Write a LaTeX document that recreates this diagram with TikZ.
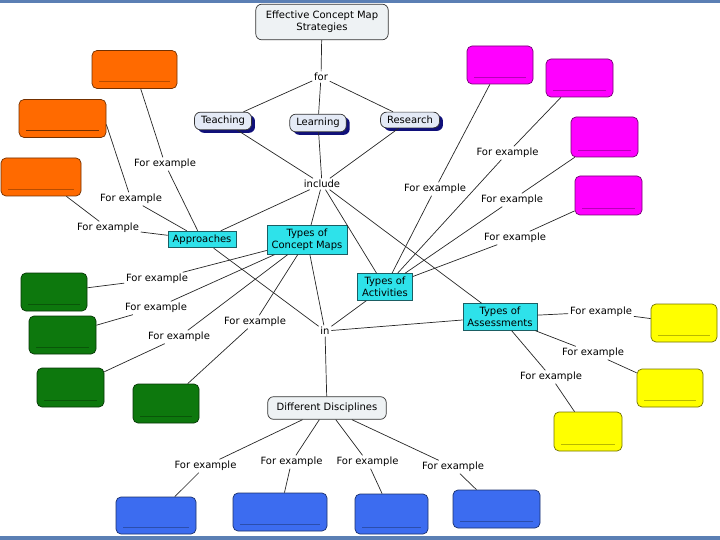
\documentclass[tikz,border=0pt]{standalone}
\usepackage{fontspec}
\setmainfont{DejaVu Sans}
\usepackage{tikz}
\usetikzlibrary{positioning,shadows}
\definecolor{framecol}{HTML}{5B7FB4}
\definecolor{rootfill}{HTML}{EEF2F4}
\definecolor{topicfill}{HTML}{E4EAF6}
\definecolor{shadowcol}{HTML}{10107A}
\definecolor{hubfill}{HTML}{2EE2EA}
\definecolor{hubdraw}{HTML}{1B5E63}
\definecolor{orangebox}{HTML}{FF6A00}
\definecolor{greenbox}{HTML}{0D780D}
\definecolor{magentabox}{HTML}{FF00FF}
\definecolor{yellowbox}{HTML}{FFFF00}
\definecolor{bluebox}{HTML}{3C6CF0}
\tikzset{
    %Define style for the main boxes
    root/.style={
           rounded corners=6pt,
           draw=black!80,
           fill=rootfill,
           font=\fontsize{10}{12}\selectfont,
           align=center,
           inner xsep=10pt,
           inner ysep=7pt},
    topic/.style={
           rounded corners=6pt,
           draw=black!80,
           fill=topicfill,
           font=\fontsize{10}{12}\selectfont,
           align=center,
           inner xsep=6.5pt,
           inner ysep=4pt,
           drop shadow={shadow xshift=3.5pt,shadow yshift=-3pt,fill=shadowcol,opacity=1}},
    hub/.style={
           draw=hubdraw,
           fill=hubfill,
           font=\fontsize{10}{12}\selectfont,
           align=center,
           inner xsep=4.5pt,
           inner ysep=3.5pt},
    % linking phrases
    link/.style={
           font=\fontsize{10}{12}\selectfont,
           inner sep=1.5pt},
    % empty example boxes
    example/.style={
           rounded corners=5pt,
           draw=#1!45!black,
           fill=#1,
           minimum width=66pt,
           minimum height=38pt,
           inner sep=0pt,
           path picture={\draw[#1!72!black, line width=0.8pt]
              ([xshift=7pt,yshift=7pt]path picture bounding box.south west) --
              ([xshift=-7pt,yshift=7pt]path picture bounding box.south east);}}
}
\begin{document}
\begin{tikzpicture}[x=1pt,y=-1pt,line width=0.7pt]
\useasboundingbox (0,0) rectangle (720,540);
 %nodes
\node[root](strat) at (322,22){Effective Concept Map\\Strategies};
\node[link](for) at (321,77){for};
\node[topic](teach) at (223,121){Teaching};
\node[topic](learn) at (318,123){Learning};
\node[topic](resear) at (410,120){Research};
\node[link](incl) at (322,184){include};
\node[hub](appr) at (202,239.5){Approaches};
\node[hub](maps) at (307,240){Types of\\Concept Maps};
\node[hub](acts) at (385,287){Types of\\Activities};
\node[hub](assess) at (500,317){Types of\\Assessments};
\node[link](in) at (325,331){in};
\node[root, inner xsep=9pt, inner ysep=6.5pt](disc) at (327,408){Different Disciplines};
 %approaches
\node[example=orangebox, minimum width=85pt](o1) at (134.5,69.5){};
\node[example=orangebox, minimum width=87pt, path picture={\draw[orangebox!45!black, line width=0.9pt]
    ([xshift=7pt,yshift=7pt]path picture bounding box.south west) --
    ([xshift=-7pt,yshift=7pt]path picture bounding box.south east);}](o2) at (62.5,118.5){};
\node[example=orangebox, minimum width=80pt](o3) at (41,177){};
\node[link](e1) at (165,164){For example};
\node[link](e2) at (131,199){For example};
\node[link](e3) at (108,228){For example};
 %concept maps
\node[example=greenbox](g1) at (54,292){};
\node[example=greenbox, minimum width=67pt](g2) at (62.5,335){};
\node[example=greenbox, minimum width=67pt, minimum height=39pt](g3) at (70.5,387.5){};
\node[example=greenbox, minimum height=39pt](g4) at (166,403.5){};
\node[link](e4) at (157,279){For example};
\node[link](e5) at (156,308){For example};
\node[link](e6) at (179,337){For example};
\node[link](e7) at (255,322){For example};
 %activities
\node[example=magentabox](m1) at (500,65){};
\node[example=magentabox, minimum width=67pt](m2) at (579.5,78){};
\node[example=magentabox, minimum width=67pt, minimum height=40pt](m3) at (604.5,137){};
\node[example=magentabox, minimum width=67pt, minimum height=39pt](m4) at (608.5,195.5){};
\node[link](e8) at (435,189){For example};
\node[link](e9) at (507.5,153){For example};
\node[link](e10) at (512,200){For example};
\node[link](e11) at (515,238){For example};
 %assessments
\node[example=yellowbox](y1) at (684,323){};
\node[example=yellowbox](y2) at (670,388){};
\node[example=yellowbox, minimum width=68pt, minimum height=39pt](y3) at (588,431.5){};
\node[link](e12) at (601,312){For example};
\node[link](e13) at (593,353){For example};
\node[link](e14) at (551,377){For example};
 %disciplines
\node[example=bluebox, minimum width=80pt, minimum height=37pt](b1) at (156,515.5){};
\node[example=bluebox, minimum width=94pt](b2) at (280,512){};
\node[example=bluebox, minimum width=73pt, minimum height=40pt](b3) at (391.5,514){};
\node[example=bluebox, minimum width=87pt](b4) at (496.5,509){};
\node[link](e15) at (205.5,466){For example};
\node[link](e16) at (291.5,462){For example};
\node[link](e17) at (367.5,462){For example};
\node[link](e18) at (453,467){For example};
 %frame
\fill[framecol] (0,0) rectangle (720,3.5);
\fill[framecol] (0,536) rectangle (720,540);
 %links
 \path[draw=black!85]
    (strat) edge (for)
    (for) edge (teach) edge (learn) edge (resear)
    (teach) edge (incl)
    (learn) edge (incl)
    (resear) edge (incl)
    (incl) edge (appr) edge (maps) edge (acts) edge (assess)
    (appr) edge (in)
    (maps) edge (in)
    (acts) edge (in)
    (assess) edge (in)
    (in) edge (disc)
    (o1) edge (e1)
    ([yshift=-6pt]o2.east) edge (e2)
    (o3) edge (e3)
    (e1) edge (appr)
    (e2) edge (appr)
    (e3) edge (appr)
    (g1) edge (e4)
    (g2) edge (e5)
    (g3) edge (e6)
    (g4) edge (e7)
    (e4) edge (maps)
    (e5) edge (maps)
    (e6) edge (maps)
    (e7) edge (maps)
    (m1) edge (e8)
    (m2) edge (e9)
    (m3) edge (e10)
    (m4) edge (e11)
    (e8) edge (acts)
    (e9) edge (acts)
    (e10) edge (acts)
    (e11) edge (acts)
    (assess) edge (e12) edge (e13) edge (e14)
    (e12) edge (y1)
    (e13) edge (y2)
    (e14) edge (y3)
    (disc) edge (e15) edge (e16) edge (e17) edge (e18)
    (e15) edge (b1)
    (e16) edge (b2)
    (e17) edge (b3)
    (e18) edge (b4);
\end{tikzpicture}
\end{document}
